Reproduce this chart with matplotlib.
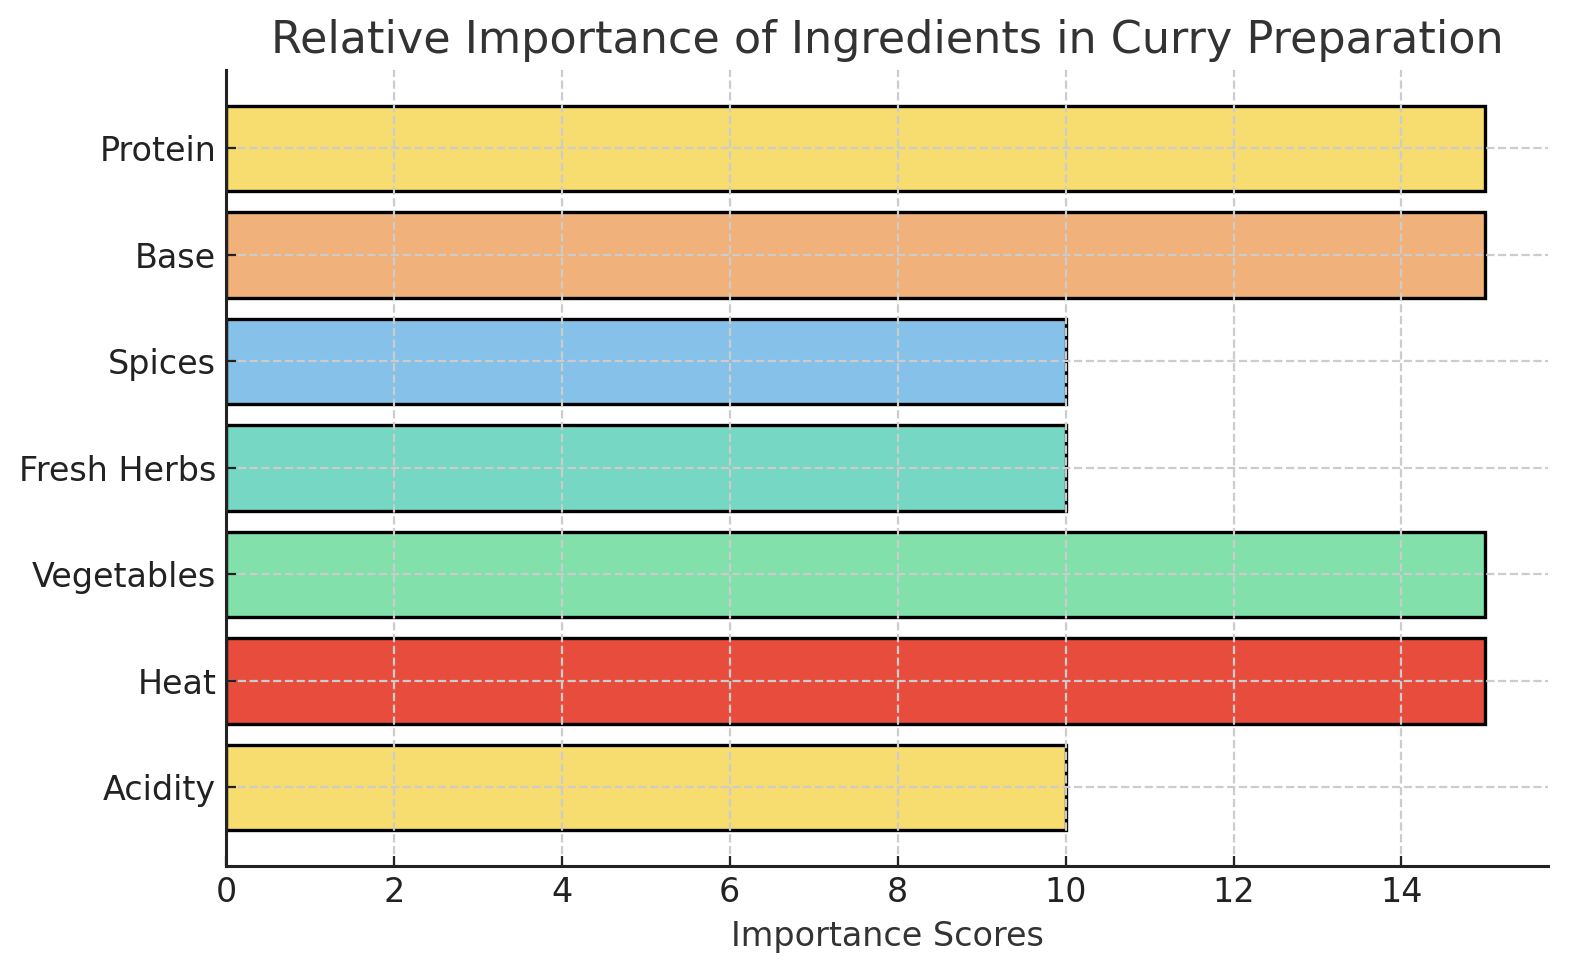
import matplotlib
matplotlib.use("Agg")
import matplotlib.pyplot as plt

# ingredient scores, bottom to top
ingredients = ["Acidity", "Heat", "Vegetables", "Fresh Herbs", "Spices", "Base", "Protein"]
scores = [10, 15, 15, 10, 10, 15, 15]
colors = ["#F7DC6F", "#E74C3C", "#82E0AA", "#76D7C4", "#85C1E9", "#F0B27A", "#F7DC6F"]

fig, ax = plt.subplots(figsize=(7.9, 4.9), dpi=200)
fig.subplots_adjust(left=0.143, right=0.98, bottom=0.116, top=0.929)

ax.barh(ingredients, scores, color=colors, edgecolor="black", linewidth=1.2, height=0.8)

ax.set_title("Relative Importance of Ingredients in Curry Preparation", fontsize=16, color="#333333")
ax.set_xlabel("Importance Scores", fontsize=12, color="#333333")
ax.tick_params(labelsize=12, direction="in", colors="#222222")
ax.grid(True, linestyle="--", color="#cccccc", linewidth=0.8)
ax.spines["top"].set_visible(False)
ax.spines["right"].set_visible(False)
for side in ["left", "bottom"]:
    ax.spines[side].set_color("#222222")
    ax.spines[side].set_linewidth(1.1)

plt.savefig("out.png", dpi=200)
